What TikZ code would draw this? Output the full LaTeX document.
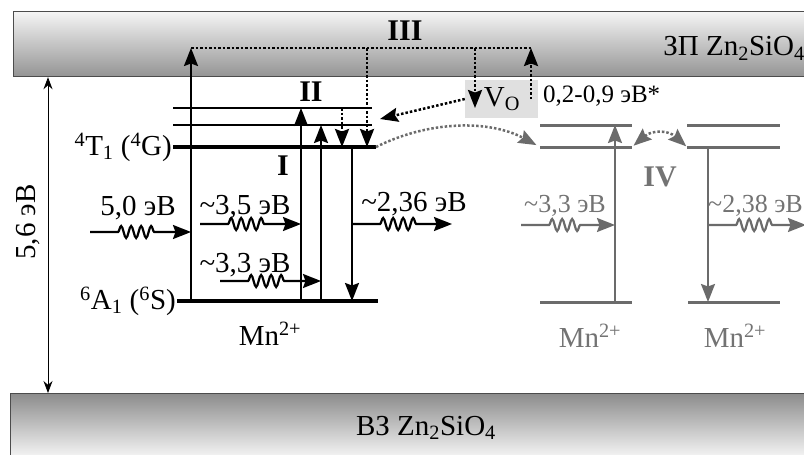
\documentclass[tikz,border=0pt]{standalone}
\usepackage{fontspec}
\setmainfont{Liberation Serif}
\usetikzlibrary{arrows.meta,positioning,decorations.pathmorphing}

\begin{document}
\begin{tikzpicture}[
    x=1pt, y=-1pt,
    font=\fontsize{29}{32}\selectfont,
    band/.style={draw=black!70, line width=1.2pt, minimum width=800pt, minimum height=65pt, inner sep=0pt, anchor=north west},
    lvl/.style={line width=2pt},
    lvlthick/.style={line width=4pt},
    glvl/.style={line width=3pt, draw=black!58},
    tip/.tip={Stealth[length=18pt,width=14pt,inset=2.5pt]},
    tr/.style={-tip, line width=2pt},
    dotline/.style={dash pattern=on 2.5pt off 2pt, line width=2.5pt},
    dot/.style={tr, dotline},
    wave/.style={tr, line width=2.2pt, decorate, decoration={snake, amplitude=6pt, segment length=10pt, pre length=28pt, post length=33pt}},
    grey/.style={black!58, text=black!55},
    lab/.style={inner sep=0pt, anchor=base},
    small/.style={font=\fontsize{26}{28}\selectfont},
    roman/.style={font=\fontsize{30}{32}\selectfont\bfseries}
]
    \useasboundingbox (0,0) rectangle (804,455);

    \node[band, top color=black!4, bottom color=black!42] (cb) at (13,11) {};
    \node[band, top color=black!45, bottom color=black!3] (vb) at (10,393) {};
    \node[lab, anchor=base east] (cbtext) at (805,56) {ЗП Zn\textsubscript{2}SiO\textsubscript{4}};
    \node[lab] (vbtext) at (426,435) {ВЗ Zn\textsubscript{2}SiO\textsubscript{4}};

    \coordinate (gx) at (48,0);
    \draw[{Stealth[length=12pt,width=9pt]}-{Stealth[length=12pt,width=9pt]}, line width=0.8pt] (gx |- cb.south) -- (gx |- vb.north);
    \node[rotate=90] (gap) at (28,222) {5,6 эВ};

    \coordinate (u1w) at (173,108); \coordinate (u1e) at (372,108);
    \coordinate (u2w) at (173,125); \coordinate (u2e) at (372,125);
    \coordinate (t1w) at (173,147); \coordinate (t1e) at (376,147);
    \coordinate (a1w) at (177,301); \coordinate (a1e) at (378,301);
    \draw[lvl] (u1w) -- (u1e);
    \draw[lvl] (u2w) -- (u2e);
    \draw[lvlthick] (t1w) -- (t1e);
    \draw[lvlthick] (a1w) -- (a1e);
    \node[inner sep=0pt, left=1pt of t1w] (t1lab) {\textsuperscript{4}T\textsubscript{1} (\textsuperscript{4}G)};
    \node[inner sep=0pt, left=1pt of a1w] (a1lab) {\textsuperscript{6}A\textsubscript{1} (\textsuperscript{6}S)};
    \node[lab] (mn1) at (270,345) {Mn\textsuperscript{2+}};

    \coordinate (c1) at (191,48);
    \coordinate (c2) at (531,48);
    \coordinate (c3) at (367,48);
    \coordinate (c4) at (475,48);
    \coordinate (c5) at (342,108);
    \coordinate (e2) at (301,108);
    \coordinate (e3) at (321,125);
    \coordinate (d1) at (352,147);

    \draw[tr] (c1 |- a1w) -- (c1);
    \draw[tr] (e2 |- a1w) -- (e2);
    \draw[tr] (e3 |- a1w) -- (e3);
    \draw[tr] (d1) -- (d1 |- a1w);

    \coordinate (w1) at (90,232);
    \coordinate (w2) at (200,224);
    \coordinate (w3) at (220,281);
    \coordinate (w4) at (452,224);
    \draw[wave] (w1) -- (w1 -| c1);
    \draw[wave] (w2) -- (w2 -| e2);
    \draw[wave] (w3) -- (w3 -| e3);
    \draw[wave] (w4 -| d1) -- (w4);
    \node[lab] (l50) at (138,215) {5,0 эВ};
    \node[lab] (l35) at (245,214) {\textasciitilde3,5 эВ};
    \node[lab] (l33) at (245,272) {\textasciitilde3,3 эВ};
    \node[lab] (l236) at (414,211) {\textasciitilde2,36 эВ};

    \node[roman] (rI) at (283,166) {I};
    \node[roman] (rII) at (311,92) {II};
    \node[roman] (rIII) at (405,31) {III};

    \node[fill=black!12, minimum width=73pt, minimum height=38pt, inner sep=0pt] (vobox) at (501.5,99) {};
    \node[lab] (vo) at (502,106) {V\textsubscript{O}};
    \node[lab, anchor=base west, font=\fontsize{25}{27}\selectfont] (depth) at (543,102) {0,2-0,9 эВ*};
    \coordinate (vin) at (475,108);
    \coordinate (vtip) at (380,119);

    \draw[dotline] (c1) -- (c2);
    \draw[dot] (c3) -- (c3 |- t1w);
    \draw[dot] (c5) -- (c5 |- t1w);
    \draw[dot] (c4) -- (vin);
    \draw[dot] (c2 |- vobox.center) -- (c2);
    \draw[dot] (vobox.west) -- (vtip);

    \coordinate (g1u) at (540,125); \coordinate (g1ue) at (632,125);
    \coordinate (g1l) at (540,147); \coordinate (g1le) at (632,147);
    \coordinate (g1a) at (540,302); \coordinate (g1ae) at (632,302);
    \coordinate (g2u) at (687,125); \coordinate (g2ue) at (780,125);
    \coordinate (g2l) at (687,147); \coordinate (g2le) at (780,147);
    \coordinate (g2a) at (688,302); \coordinate (g2ae) at (780,302);
    \draw[glvl] (g1u) -- (g1ue);
    \draw[glvl] (g1l) -- (g1le);
    \draw[glvl] (g1a) -- (g1ae);
    \draw[glvl] (g2u) -- (g2ue);
    \draw[glvl] (g2l) -- (g2le);
    \draw[glvl] (g2a) -- (g2ae);

    \coordinate (gup) at (615,125);
    \coordinate (gdn) at (708,147);
    \draw[tr, grey] (gup |- g1a) -- (gup);
    \draw[tr, grey] (gdn) -- (gdn |- g2a);

    \coordinate (w5) at (521,225);
    \coordinate (w6) at (806,225);
    \draw[wave, grey] (w5) -- (w5 -| gup);
    \draw[wave, grey] (w6 -| gdn) -- (w6);
    \node[lab, grey, small] (l33g) at (565,212) {\textasciitilde3,3 эВ};
    \node[lab, grey, small, anchor=base west] (l238) at (708,212) {\textasciitilde2,38 эВ};
    \node[lab, grey] (mn2) at (590,347) {Mn\textsuperscript{2+}};
    \node[lab, grey] (mn3) at (735,347) {Mn\textsuperscript{2+}};
    \node[roman, grey] (rIV) at (660,177) {IV};

    \draw[dot, grey, shorten >=4pt] (t1e) .. controls (430,120) and (490,120) .. (g1l);
    \draw[dot, grey, tip-tip, shorten <=2pt, shorten >=1pt] (g1le) .. controls (652,130) and (668,130) .. (g2l);
\end{tikzpicture}
\end{document}
